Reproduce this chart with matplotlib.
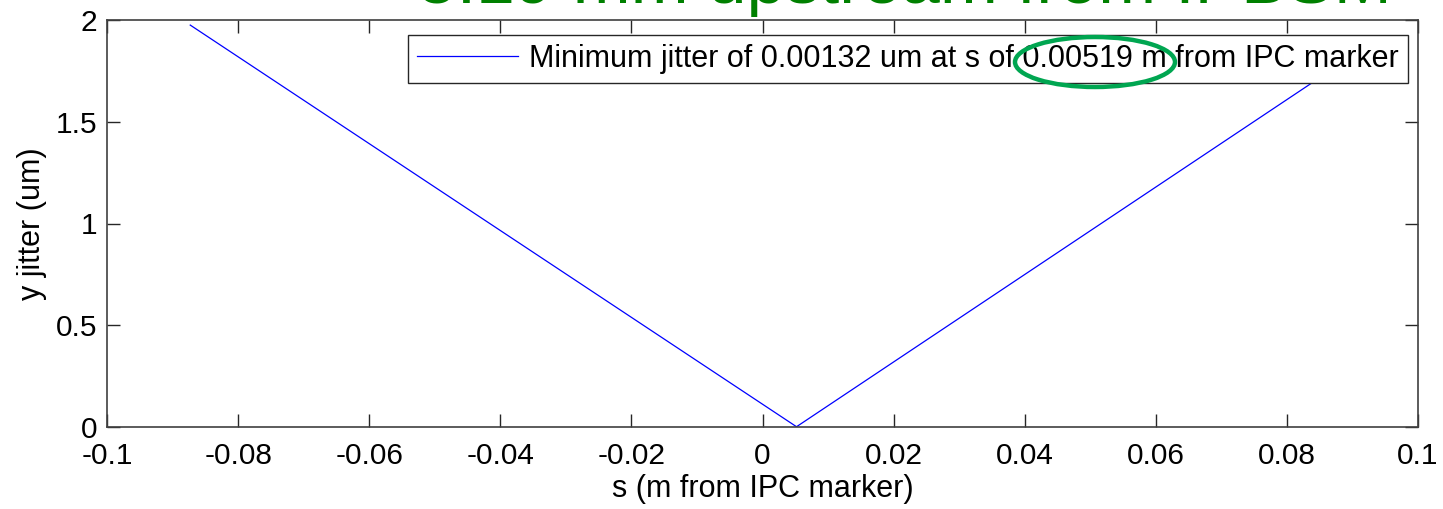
import matplotlib
matplotlib.use("Agg")
import matplotlib.pyplot as plt
from matplotlib.patches import Ellipse

plt.rcParams['font.family'] = ['Liberation Sans', 'DejaVu Sans']

# data
s_vals = [-0.0873, 0.00519, 0.0875]
jitter_vals = [1.975, 0.00132, 1.77]
x_ticks = [-0.1, -0.08, -0.06, -0.04, -0.02, 0, 0.02, 0.04, 0.06, 0.08, 0.1]
x_tick_labels = ['-0.1', '-0.08', '-0.06', '-0.04', '-0.02', '0', '0.02', '0.04', '0.06', '0.08', '0.1']
y_ticks = [0, 0.5, 1, 1.5, 2]
y_tick_labels = ['0', '0.5', '1', '1.5', '2']
legend_label = 'Minimum jitter of 0.00132 um at s of 0.00519 m from IPC marker'
title_text = '5.19 mm upstream from IPBSM'

W, H = 1443, 509
fig = plt.figure(figsize=(W/100, H/100), dpi=100)
ax = fig.add_axes([107/W, 1-427/H, (1418-107)/W, (427-20)/H])

ax.plot(s_vals, jitter_vals, color='#0000ff', lw=0.9, label=legend_label)
ax.set_xlim(-0.1, 0.1)
ax.set_ylim(0, 2)
ax.set_xticks(x_ticks)
ax.set_xticklabels(x_tick_labels)
ax.set_yticks(y_ticks)
ax.set_yticklabels(y_tick_labels)
ax.tick_params(direction='in', length=9.5, width=1.0, labelsize=21.5,
               top=True, right=True, color='#262626')
ax.tick_params(axis='x', pad=10.5)
ax.tick_params(axis='y', pad=7)
for sp in ax.spines.values():
    sp.set_color('#404040')
    sp.set_linewidth(1.2)
ax.set_xlabel('s (m from IPC marker)', fontsize=22, labelpad=3)
ax.set_ylabel('y jitter (um)', fontsize=22, labelpad=6)

leg = ax.legend(loc='upper right', bbox_to_anchor=(1408/W, 1-35/H), bbox_transform=fig.transFigure,
                fontsize=22, frameon=True, fancybox=False, framealpha=1.0, borderpad=0.3,
                handlelength=3.3, handletextpad=0.36, borderaxespad=0)
leg.get_frame().set_edgecolor('#262626')
leg.get_frame().set_linewidth(1.0)

fig.text(418/W, 1-3/H, title_text, color='#008000', fontsize=50, ha='left', va='baseline')

ell = Ellipse((1095/W, 1-62/H), 160/W, 50/H, transform=fig.transFigure,
              fill=False, edgecolor='#00a651', lw=3.2)
fig.add_artist(ell)

fig.savefig('out.png', dpi=100, facecolor='white')
